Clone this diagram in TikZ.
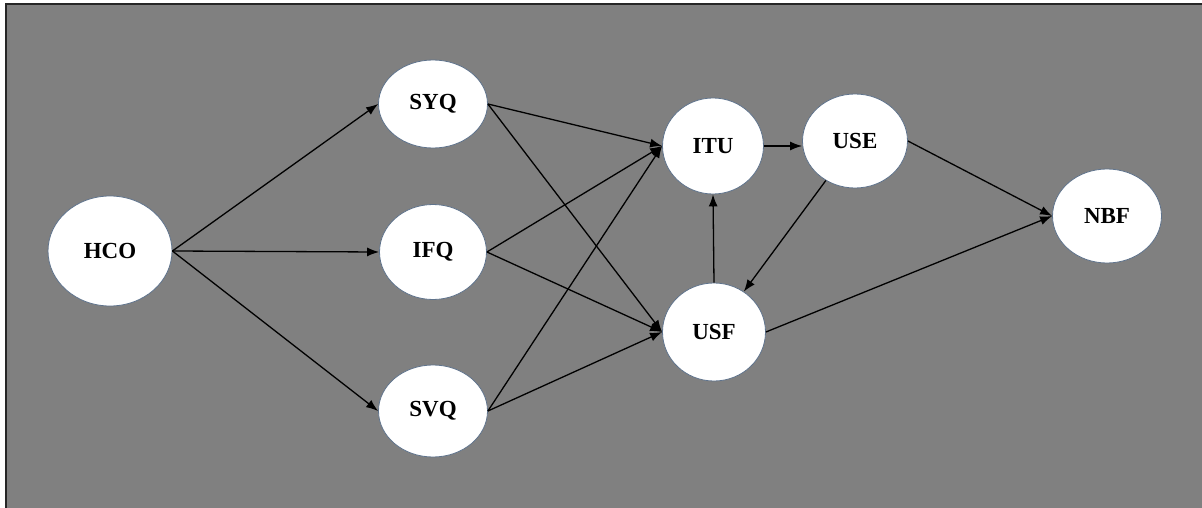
\documentclass[tikz,border=0pt]{standalone}
\usepackage{fontspec}
\setmainfont{Liberation Serif}
\usetikzlibrary{shapes.geometric,arrows.meta}
\definecolor{bg}{RGB}{128,128,128}
\definecolor{rim}{RGB}{95,115,140}
\tikzset{
  var/.style={ellipse,fill=white,draw=rim,line width=0.8pt,inner sep=0pt,
    font=\fontsize{23}{23}\selectfont\bfseries},
  link/.style={line width=1.3pt,-{Latex[length=12pt,width=9pt]}}
}
\begin{document}
\begin{tikzpicture}[x=1pt,y=-1pt]
\useasboundingbox (0,0) rectangle (1202,508);
\fill[bg] (6,4) rectangle (1202,508);
\draw[line width=2.5pt,black!85] (6,508) -- (6,4) -- (1202,4);
\node[var,minimum width=124pt,minimum height=110pt] (HCO) at (110,251) {HCO};
\node[var,minimum width=109pt,minimum height=88pt] (SYQ) at (433,104) {SYQ};
\node[var,minimum width=107pt,minimum height=95pt] (IFQ) at (433,252) {IFQ};
\node[var,minimum width=109pt,minimum height=92pt] (SVQ) at (433,411) {SVQ};
\node[var,minimum width=101pt,minimum height=96pt] (ITU) at (713,146) {ITU};
\node[var,minimum width=105pt,minimum height=94pt] (USE) at (855,141) {USE};
\node[var,minimum width=103pt,minimum height=98pt] (USF) at (714,332) {USF};
\node[var,minimum width=109pt,minimum height=94pt] (NBF) at (1107,216) {NBF};
\draw[link] (HCO.east) -- (SYQ.west);
\draw[link] (HCO.east) -- (IFQ.west);
\draw[link] (HCO.east) -- (SVQ.west);
\draw[link] (SYQ.east) -- (ITU.west);
\draw[link] (SYQ.east) -- (USF.west);
\draw[link] (IFQ.east) -- (ITU.west);
\draw[link] (IFQ.east) -- (USF.west);
\draw[link] (SVQ.east) -- (ITU.west);
\draw[link] (SVQ.east) -- (USF.west);
\draw[link] (ITU.east) -- (USE.west |- ITU.east);
\draw[link] (USF.north) -- (ITU.south);
\draw[link] (USE) -- (USF);
\draw[link] (USE.east) -- (NBF.west);
\draw[link] (USF.east) -- (NBF.west);
\end{tikzpicture}
\end{document}
